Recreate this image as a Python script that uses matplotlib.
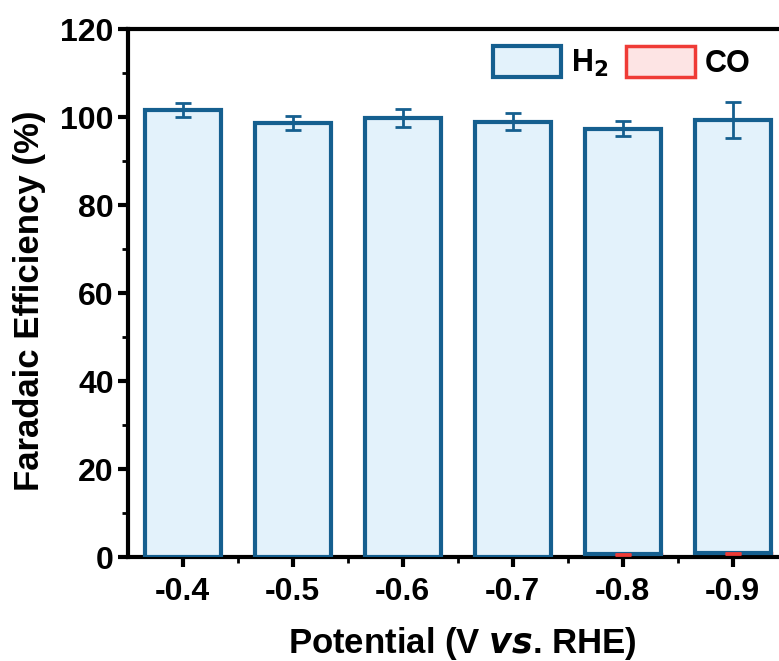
import matplotlib.pyplot as plt
import numpy as np
from matplotlib.ticker import MultipleLocator, FixedLocator

plt.rcParams['font.family'] = ['Liberation Sans', 'DejaVu Sans']
plt.rcParams['font.weight'] = 'bold'

potentials = ['-0.4', '-0.5', '-0.6', '-0.7', '-0.8', '-0.9']
fe_co = [0.0, 0.0, 0.0, 0.0, 0.7, 0.9]
err_co = [0.0, 0.0, 0.0, 0.0, 0.1, 0.1]
fe_h2 = [101.6, 98.7, 99.7, 99.0, 96.7, 98.4]
err_h2 = [1.5, 1.55, 2.05, 1.9, 1.7, 4.1]

blue_edge = '#155f8f'
blue_fill = '#e3f2fb'
red_edge = '#ef3b36'
red_fill = '#fde4e4'

fig = plt.figure(figsize=(7.79, 6.61), dpi=100)
ax = fig.add_axes([0.164, 0.157, 0.84, 0.799])

x = np.arange(1, len(potentials) + 1)
w = 0.69

ax.bar(x, fe_co, w, color=red_fill, edgecolor=red_edge, linewidth=2.5, label='CO', zorder=2)
ax.bar(x, fe_h2, w, bottom=fe_co, color=blue_fill, edgecolor=blue_edge, linewidth=3, label='H$_2$', zorder=3)
tops = np.array(fe_h2) + np.array(fe_co)
ax.errorbar(x, tops, yerr=err_h2, fmt='none', ecolor=blue_edge, elinewidth=2,
            capsize=6, capthick=2, zorder=4)
has_co = np.array(fe_co) > 0
ax.errorbar(x[has_co], np.array(fe_co)[has_co], yerr=np.array(err_co)[has_co], fmt='none',
            ecolor=red_edge, elinewidth=2, capsize=6, capthick=2, zorder=5)

ax.set_xlim(0.5, 6.45)
ax.set_ylim(0, 120)
ax.set_xticks(x)
ax.set_xticklabels(potentials)
ax.xaxis.set_minor_locator(FixedLocator(x[:-1] + 0.5))
ax.yaxis.set_major_locator(MultipleLocator(20))
ax.yaxis.set_minor_locator(MultipleLocator(10))

for s in ['left', 'bottom', 'top']:
    ax.spines[s].set_linewidth(3)
ax.spines['right'].set_visible(False)
ax.tick_params(which='major', direction='out', length=7, width=3, labelsize=23, pad=3)
ax.tick_params(which='minor', direction='out', length=4, width=2)
ax.tick_params(axis='x', which='major', pad=7)

ax.set_xlabel('Potential (V $\\mathbfit{vs}$. RHE)', fontsize=25, fontweight='bold')
ax.set_ylabel('Faradaic Efficiency (%)', fontsize=25, fontweight='bold')
ax.xaxis.set_label_coords(0.512, -0.128)
ax.yaxis.set_label_coords(-0.125, 0.485)

handles, labels = ax.get_legend_handles_labels()
ax.legend(handles[::-1], labels[::-1], loc='upper right', ncol=2, frameon=False,
          fontsize=22, handlelength=2.25, handleheight=1.2, columnspacing=0.6,
          handletextpad=0.3, bbox_to_anchor=(0.993, 1.02))

fig.savefig('out.png', dpi=100)
